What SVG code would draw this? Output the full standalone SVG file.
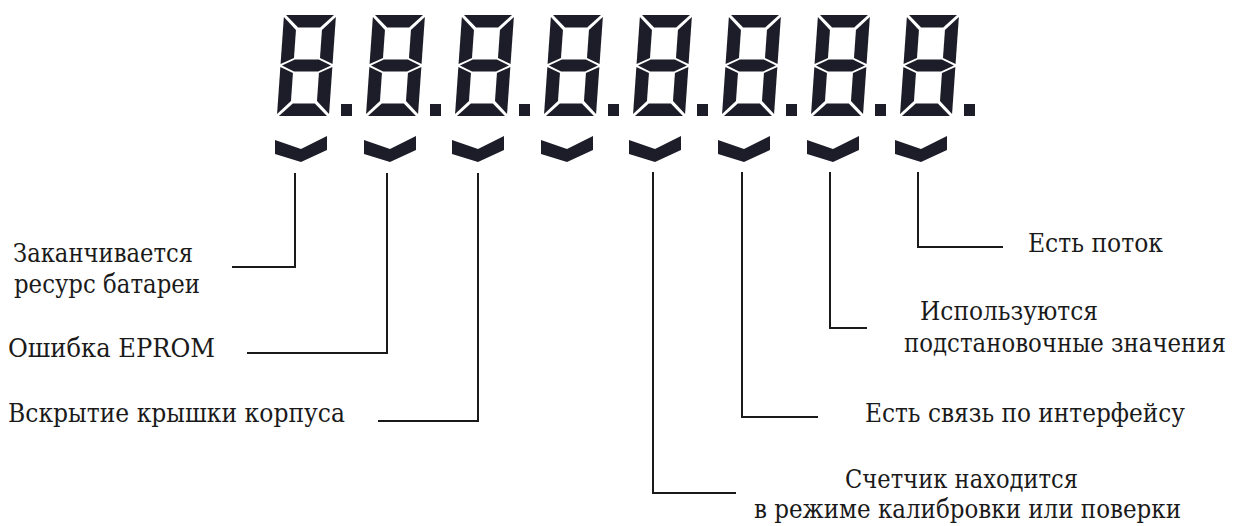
<svg xmlns="http://www.w3.org/2000/svg" xmlns:xlink="http://www.w3.org/1999/xlink" width="1239" height="526" viewBox="0 0 1239 526">
  <style>
    .seg { fill: #1d1d29; }
    .lbl { font-family: 'DejaVu Serif', 'Liberation Serif', serif; font-size: 26px; fill: #1a1a1a; }
    .conn { fill: none; stroke: #1a1a1a; stroke-width: 2; }
  </style>
  <defs>
    <g id="digit" class="seg">
      <polygon points="2,0 50,0 37,12.5 15,12.5"/>
      <polygon points="2,101 50,101 37,88.5 15,88.5"/>
      <polygon points="0,2 13,15 13,43 0,49"/>
      <polygon points="0,52 13,58 13,86 0,99"/>
      <polygon points="52,2 52,49 39,43 39,15"/>
      <polygon points="52,52 52,99 39,86 39,58"/>
      <polygon points="1.5,50.5 14,44.5 38,44.5 50.5,50.5 38,56.5 14,56.5"/>
    </g>
    <polygon id="chev" class="seg" points="-26,5 0,14 26,1 26,15 0,27 -26,19"/>
    <rect id="dot" class="seg" width="11" height="12"/>
  </defs>
  <rect width="1239" height="526" fill="#ffffff"/>

  <g id="display">
    <use xlink:href="#digit" transform="translate(284,15) skewX(-4)"/>
    <use xlink:href="#digit" transform="translate(373,15) skewX(-4)"/>
    <use xlink:href="#digit" transform="translate(462,15) skewX(-4)"/>
    <use xlink:href="#digit" transform="translate(551,15) skewX(-4)"/>
    <use xlink:href="#digit" transform="translate(640,15) skewX(-4)"/>
    <use xlink:href="#digit" transform="translate(729,15) skewX(-4)"/>
    <use xlink:href="#digit" transform="translate(818,15) skewX(-4)"/>
    <use xlink:href="#digit" transform="translate(907,15) skewX(-4)"/>
    <use xlink:href="#dot" x="341" y="104"/>
    <use xlink:href="#dot" x="430" y="104"/>
    <use xlink:href="#dot" x="519" y="104"/>
    <use xlink:href="#dot" x="608" y="104"/>
    <use xlink:href="#dot" x="697" y="104"/>
    <use xlink:href="#dot" x="786" y="104"/>
    <use xlink:href="#dot" x="875" y="104"/>
    <use xlink:href="#dot" x="964" y="104"/>
  </g>

  <g id="indicators">
    <use xlink:href="#chev" transform="translate(301,135)"/>
    <use xlink:href="#chev" transform="translate(390,135)"/>
    <use xlink:href="#chev" transform="translate(478,135)"/>
    <use xlink:href="#chev" transform="translate(567,135)"/>
    <use xlink:href="#chev" transform="translate(655,135)"/>
    <use xlink:href="#chev" transform="translate(744,135)"/>
    <use xlink:href="#chev" transform="translate(833,135)"/>
    <use xlink:href="#chev" transform="translate(921,135)"/>
  </g>

  <g id="connectors" class="conn">
    <path d="M295,173 V267 H232"/>
    <path d="M387,173 V353 H247"/>
    <path d="M478,173 V421 H378"/>
    <path d="M653,172 V493 H736"/>
    <path d="M742,172 V417 H818"/>
    <path d="M830,172 V328 H867"/>
    <path d="M918,172 V247 H1003"/>
  </g>

  <g id="label-battery">
    <text class="lbl" x="13" y="262" textLength="180" lengthAdjust="spacingAndGlyphs">Заканчивается</text>
    <text class="lbl" x="14" y="293" textLength="186" lengthAdjust="spacingAndGlyphs">ресурс батареи</text>
  </g>
  <g id="label-eprom">
    <text class="lbl" x="8" y="357" textLength="207" lengthAdjust="spacingAndGlyphs">Ошибка EPROM</text>
  </g>
  <g id="label-cover">
    <text class="lbl" x="8" y="422" textLength="337" lengthAdjust="spacingAndGlyphs">Вскрытие крышки корпуса</text>
  </g>
  <g id="label-calibration">
    <text class="lbl" x="845" y="488" textLength="233" lengthAdjust="spacingAndGlyphs">Счетчик находится</text>
    <text class="lbl" x="754" y="518" textLength="427" lengthAdjust="spacingAndGlyphs">в режиме калибровки или поверки</text>
  </g>
  <g id="label-interface">
    <text class="lbl" x="865" y="422" textLength="320" lengthAdjust="spacingAndGlyphs">Есть связь по интерфейсу</text>
  </g>
  <g id="label-substitute">
    <text class="lbl" x="920" y="320" textLength="178" lengthAdjust="spacingAndGlyphs">Используются</text>
    <text class="lbl" x="1226" y="352" text-anchor="end" textLength="322" lengthAdjust="spacingAndGlyphs">подстановочные значения</text>
  </g>
  <g id="label-flow">
    <text class="lbl" x="1028" y="252" textLength="135" lengthAdjust="spacingAndGlyphs">Есть поток</text>
  </g>
</svg>
